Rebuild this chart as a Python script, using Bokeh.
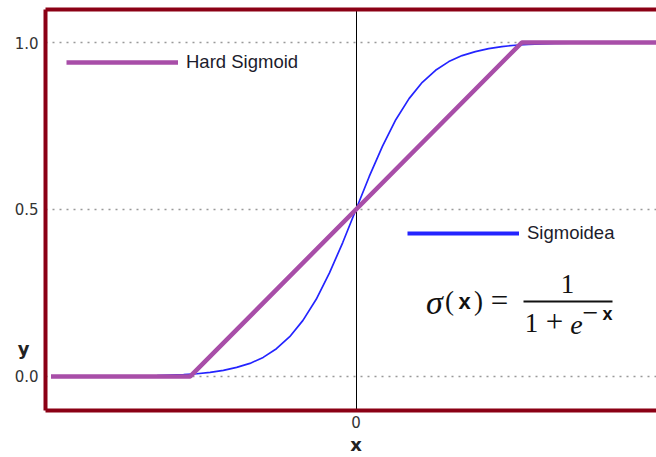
from bokeh.plotting import figure
from bokeh.models import (LinearAxis, FixedTicker, Legend, LegendItem, Label,
                          BoxAnnotation, PrintfTickFormatter, Range1d)
from bokeh.embed import file_html
from bokeh.resources import INLINE

# ---- data ----
sig_x = [-4.6, -4.0, -3.5, -3.0, -2.6, -2.4, -2.2, -2.0, -1.8, -1.6, -1.4, -1.2, -1.0,
         -0.8, -0.6, -0.4, -0.2, 0.0, 0.2, 0.4, 0.6, 0.8, 1.0, 1.2, 1.4, 1.6, 1.8,
         2.0, 2.2, 2.4, 2.6, 3.0, 3.5, 4.0, 4.6]
sig_y = [0.0001, 0.0003, 0.0009, 0.0025, 0.0055, 0.008, 0.012, 0.018, 0.027, 0.039,
         0.057, 0.083, 0.119, 0.168, 0.231, 0.310, 0.401, 0.5, 0.599, 0.690, 0.769,
         0.832, 0.881, 0.917, 0.943, 0.961, 0.973, 0.982, 0.988, 0.992, 0.9945,
         0.9975, 0.9991, 0.9997, 0.9999]
hard_x = [-4.6, -2.5, 2.5, 4.6]
hard_y = [0.0, 0.0, 1.0, 1.0]
y_ticks = [0.0, 0.5, 1.0]
x_ticks = [0]
y_label_pos = 0.084   # where the "y" axis title sits along the y axis
x_label_pos = 0       # where the "x" axis title sits along the x axis

BORDER = "#8b0015"
PURPLE = "#a84ea8"
BLUE = "#2424ff"
TXT = "#222222"

p = figure(width=656, height=457, output_backend="svg", toolbar_location=None,
           x_range=Range1d(-4.683, 4.532), y_range=Range1d(-0.102, 1.099),
           x_axis_location=None, y_axis_location=None,
           min_border_left=45, min_border_right=0, min_border_top=9, min_border_bottom=47)
p.outline_line_color = None
p.background_fill_color = "white"
p.extra_y_ranges = {"hidden": Range1d(10, 11)}

def style_axis(ax):
    ax.axis_line_color = BORDER
    ax.axis_line_width = 4
    ax.major_tick_out = 0
    ax.major_tick_in = 0
    ax.minor_tick_out = 0
    ax.minor_tick_in = 0
    ax.major_label_standoff = 7
    ax.major_label_text_font = "DejaVu Sans"
    ax.major_label_text_font_size = "15px"
    ax.major_label_text_color = "#333333"

yax = LinearAxis(ticker=FixedTicker(ticks=y_ticks), formatter=PrintfTickFormatter(format="%.1f"))
style_axis(yax)
p.add_layout(yax, "left")

# axis title "y" as an outer axis with a single labelled tick
yax2 = LinearAxis(ticker=FixedTicker(ticks=[y_label_pos]),
                  major_label_overrides={y_label_pos: "y"})
style_axis(yax2)
yax2.axis_line_color = None
yax2.major_label_standoff = -18
yax2.major_label_text_font_size = "18px"
yax2.major_label_text_font_style = "bold"
yax2.major_label_text_color = TXT
p.add_layout(yax2, "left")

xax = LinearAxis(ticker=FixedTicker(ticks=x_ticks))
style_axis(xax)
xax.major_label_standoff = 5
p.add_layout(xax, "below")

xax2 = LinearAxis(ticker=FixedTicker(ticks=[x_label_pos]),
                  major_label_overrides={x_label_pos: "x"})
style_axis(xax2)
xax2.axis_line_color = None
xax2.major_label_standoff = 3
xax2.major_label_text_font_size = "18px"
xax2.major_label_text_font_style = "bold"
xax2.major_label_text_color = TXT
p.add_layout(xax2, "below")

tax = LinearAxis(ticker=FixedTicker(ticks=[]))
style_axis(tax)
tax.major_label_standoff = 0
tax.major_label_text_font_size = "0px"
p.add_layout(tax, "above")

# grids
p.ygrid.ticker = FixedTicker(ticks=y_ticks)
p.ygrid.grid_line_color = "#999999"
p.ygrid.grid_line_dash = "2 5"
p.ygrid.grid_line_width = 1.5
p.xgrid.ticker = FixedTicker(ticks=x_ticks)
p.xgrid.grid_line_color = "black"
p.xgrid.grid_line_width = 1

# lines
r_sig = p.line(sig_x, sig_y, line_color=BLUE, line_width=1.7)
r_hard = p.line(hard_x, hard_y, line_color=PURPLE, line_width=4.5)
# legend-only swatch (thicker blue, as in the reference), mapped off-frame
r_sig_key = p.line(sig_x, sig_y, line_color=BLUE, line_width=4, y_range_name="hidden")

def mk_legend(label, r, loc):
    lg = Legend(items=[LegendItem(label=label, renderers=[r])], location=loc)
    lg.glyph_width = 112
    lg.glyph_height = 22
    lg.label_height = 22
    lg.label_standoff = 8
    lg.padding = 0
    lg.margin = 0
    lg.border_line_color = None
    lg.background_fill_alpha = 0
    lg.label_text_font = "Liberation Sans"
    lg.label_text_font_size = "18.5px"
    lg.label_text_color = "#1c1c2c"
    return lg

p.add_layout(mk_legend("Hard Sigmoid", r_hard, (21, 337)), "center")
p.add_layout(mk_legend("Sigmoidea", r_sig_key, (362, 166)), "center")

# formula
def fl(x, y, t, font="Liberation Serif", size="26px", style="normal", align="center"):
    p.add_layout(Label(x=x, y=y, x_units="screen", y_units="screen", text=t,
                       text_align=align, text_baseline="middle", text_font=font,
                       text_font_size=size, text_font_style=style, text_color="#111111"))

fl(389, 108, "σ", style="italic", size="34px")
fl(404, 110, "(", size="27px")
fl(419, 109, "x", font="Liberation Sans", size="22px", style="bold")
fl(433, 110, ")", size="27px")
fl(454, 110, "=", size="31px")
fl(522, 127, "1", size="27px")
p.add_layout(BoxAnnotation(left=478, right=567, top=110, bottom=108,
                           left_units="screen", right_units="screen",
                           top_units="screen", bottom_units="screen",
                           fill_color="#111111", fill_alpha=1, line_color=None))
fl(486, 88, "1", size="27px")
fl(509, 89, "+", size="31px")
fl(531, 86, "e", size="28px", style="italic")
fl(545, 98, "−", size="28px")
fl(562, 97, "x", font="Liberation Sans", size="18px", style="bold")

open("out.html", "w").write(file_html(p, INLINE))
